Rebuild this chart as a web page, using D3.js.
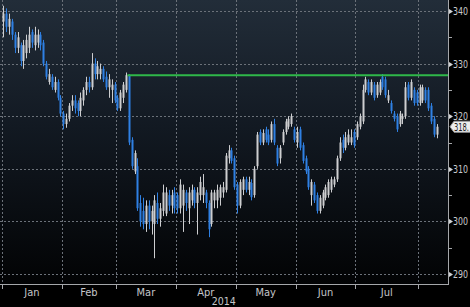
<!DOCTYPE html>
<html>
<head>
<meta charset="utf-8">
<script src="https://cdn.jsdelivr.net/npm/d3@7"></script>
<style>
  body { margin: 0; background: #000; }
  svg { display: block; }
  text { font-family: "Liberation Sans Narrow", "DejaVu Sans Condensed", "Liberation Sans", sans-serif; }
</style>
</head>
<body>
<div id="chart"></div>
<script>
// daily candles, one per trading day from 2 Jan 2014 (index 0) to 11 Aug 2014
var opens = [338,339.5,337,338,335.5,333,333.5,330.5,332,333,336,333.5,334,335.5,334,330,326.5,327.5,325,326.5,323.5,
  320.5,318.5,319.5,322,323,322.5,321,323,325,326.5,325.5,330,328,328,329,327.5,325.5,325,326,
  323.5,321.5,323.5,325,327.8,315.5,309.5,310.5,303.5,302,299.5,303,300,299.5,303.5,300.5,302,301.5,305,303,305.5,
  305,302.5,303,305.5,302.5,304,306,303.5,305,305,305.5,303.5,299.5,304,304,304.5,305.5,306,312,313.5,312,
  307,303,306,308,306,307.3,305,310.5,317,315,317.5,316.5,315.5,318.5,314,312,315,317,318,318.5,317.5,
  315,317.5,314.5,312,310,305,307,305,302,303,304.5,305,306,307,308,312,315.5,314,315,315,317,
  316,318,319,325,326.5,324.5,326,324,324.5,327.5,327,323,322.5,320.5,320,318.5,319.5,320,326,323.5,325,324.5,
  322.5,323,325,325,322,319.5,316.5];
var highs = [341,340.5,339.5,338.5,336,336,334,334.5,335.5,337,336.5,337,336.5,336,334.5,330.5,329,328,327.5,327,324,
  321,320.5,322.5,324,324,323,324.5,325.5,327.5,327.5,332,331,330.5,330,329.5,328.5,328,327,326.5,
  324,325,326.5,328.3,328,316,313.5,312,305,304.5,304,304,303,305,305.5,303.5,307,306.5,306,306,306.5,
  305.5,308,307,306,306.5,307,306.5,306.5,308.5,309,306,304,306,306,307,307,307.5,313,314.5,314,312.5,
  307.5,308,308.5,308.5,308.5,308,310.5,317,317.5,317.5,318,317.5,319,319.5,314.5,314.5,317.5,319.5,320,320.5,318,
  318,318,315,312.5,310.5,308,307.5,305.5,305,306,307,308,308.5,308.5,312.5,316,316.5,317,317.5,317.5,317.5,
  319,320.5,326,327.5,327,327,326.5,326.5,327,328,327.5,325,323,321,320.5,321,320.5,326.5,326.5,327,325.5,325,
  326,326,325.5,325.5,322.5,320,318.5];
var lows = [335,336,335.5,334.5,332,332,329.5,329,331,332,333,332.5,333,332.5,329.5,327,326,325,324.5,323,320,
  317.5,317.8,319,321,320.5,320,320,322,324,324.5,325,327,327,327,326.5,325,323.5,322.5,322.5,
  321,321,322.5,324.5,314.5,310,309,302,299,298.5,298,298.5,297.5,293,299.5,299,301,301,302,301.5,301.5,
  301.5,301.5,298,302,299.5,303,302.5,297.5,304,303.5,302.5,297,299,302.5,302.5,303,304.5,305.5,311,311,306,
  301.5,302.5,305,305.5,305,304,304.5,310,314.5,314.5,315,314.5,315,314.5,310.5,311,314.5,316.5,317.5,318,315,
  314,313.5,311,309,306,303,303.5,301.5,301.5,302.5,304,304.5,305.5,306.5,307.5,311.5,313,313.5,314.5,314.5,314,
  315.5,317.5,318.5,324.5,324,324,323,323.5,324,325,323.5,322.5,320.5,319,317,318,318.5,319.5,323,323,322,322,
  322,322.5,322.5,321,318.5,316,315.8];
var closes = [339.5,337,338.5,335.5,333,335,330.5,333.5,334.5,335.5,334,335.5,335.5,333.5,330,327.5,328,325.5,326.5,323.5,320.5,
  318.5,319.5,322,323,321.5,321,323.5,325,326.5,325.5,330,328,329.5,329,327,325.5,327,326,323,
  321.5,324.5,326,327.8,315,310.5,313,302.5,300,299.5,303,300,302,304,300.5,302.5,305.5,305.5,303,305,302.5,
  302.5,307,306,303.5,305.5,306,303.5,305.5,307.5,306.5,303.5,298.5,305.5,305.5,306,306.5,306.5,312.5,313.5,311.5,306.5,
  303,307.5,308,306,307.5,304.6,310,316.5,315,316.8,315.5,315,318.5,315,311,314,317,319,319.5,320,315.5,
  317,314,311.5,309.5,306.5,307.5,304,302,304.5,305.5,306.5,307.5,308,308,312,315,314,316,316.5,316,314.5,
  318.5,320,325,327,324.5,326.5,323.5,326,326.5,325.5,324,324,321,319.5,317.5,320.5,320,325.5,323.5,326.5,322.5,322.5,
  325.5,325.5,323,321.5,319,316.5,318];

var monthNames = ['Jan', 'Feb', 'Mar', 'Apr', 'May', 'Jun', 'Jul'];
var monthStarts = [0, 21, 40, 61, 82, 103, 124, 146]; // first trading day of each month
var yTicks = [290, 300, 310, 320, 330, 340];
var yMinorTicks = [295, 305, 315, 325, 335];
var resistanceLevel = 327.8;
var resistanceStart = 44;
var lastPrice = 318;

var W = 470, H = 307;
var plotRight = 448, plotBottom = 284;

var svg = d3.select("#chart").append("svg")
    .attr("width", W)
    .attr("height", H);

var defs = svg.append("defs");
var grad = defs.append("linearGradient")
    .attr("id", "bg").attr("x1", 0).attr("y1", 0).attr("x2", 0).attr("y2", 1);
grad.append("stop").attr("offset", "0%").attr("stop-color", "#222d39");
grad.append("stop").attr("offset", "45%").attr("stop-color", "#121922");
grad.append("stop").attr("offset", "100%").attr("stop-color", "#020304");

svg.append("rect").attr("width", W).attr("height", H).attr("fill", "#000");
svg.append("rect")
    .attr("x", 0).attr("y", 0)
    .attr("width", plotRight).attr("height", plotBottom)
    .attr("fill", "url(#bg)");

var x = d3.scaleLinear().domain([0, 156.5]).range([2, plotRight]);
var y = d3.scaleLinear().domain([290, 340]).range([274, 11]);

// grid
svg.append("g").selectAll("line")
    .data(yTicks)
    .enter().append("line")
    .attr("x1", 0).attr("x2", plotRight)
    .attr("y1", function(d) { return Math.round(y(d)) + 0.5; })
    .attr("y2", function(d) { return Math.round(y(d)) + 0.5; })
    .attr("stroke", "#6b7179")
    .attr("stroke-dasharray", "2,2");

svg.append("g").selectAll("line")
    .data(monthStarts)
    .enter().append("line")
    .attr("x1", function(d) { return Math.round(x(d)) + 0.5; })
    .attr("x2", function(d) { return Math.round(x(d)) + 0.5; })
    .attr("y1", 0).attr("y2", plotBottom)
    .attr("stroke", "#6b7179")
    .attr("stroke-dasharray", "2,2");

// candles
var candles = d3.range(closes.length).map(function(i) {
    return { i: i, o: opens[i], h: highs[i], l: lows[i], c: closes[i] };
});
var upColor = "#cdced0", downColor = "#2f80e3";

var cg = svg.append("g").selectAll("g")
    .data(candles)
    .enter().append("g");

cg.append("line")
    .attr("x1", function(d) { return Math.round(x(d.i + 0.5)) + 0.5; })
    .attr("x2", function(d) { return Math.round(x(d.i + 0.5)) + 0.5; })
    .attr("y1", function(d) { return y(d.h); })
    .attr("y2", function(d) { return y(d.l); })
    .attr("stroke", function(d) { return d.c >= d.o ? upColor : downColor; })
    .attr("stroke-width", 1);

cg.append("rect")
    .attr("x", function(d) { return Math.round(x(d.i + 0.5)) - 0.5; })
    .attr("width", 2)
    .attr("y", function(d) { return y(Math.max(d.o, d.c)); })
    .attr("height", function(d) { return Math.max(1, Math.abs(y(d.o) - y(d.c))); })
    .attr("fill", function(d) { return d.c >= d.o ? upColor : downColor; });

// resistance line
svg.append("line")
    .attr("x1", x(resistanceStart)).attr("x2", plotRight)
    .attr("y1", y(resistanceLevel)).attr("y2", y(resistanceLevel))
    .attr("stroke", "#2fb84a")
    .attr("stroke-width", 2);

// axes lines
svg.append("line")
    .attr("x1", plotRight + 0.5).attr("x2", plotRight + 0.5)
    .attr("y1", 0).attr("y2", plotBottom + 1)
    .attr("stroke", "#a5a7aa");
svg.append("line")
    .attr("x1", 0).attr("x2", plotRight + 1)
    .attr("y1", plotBottom + 0.5).attr("y2", plotBottom + 0.5)
    .attr("stroke", "#a5a7aa");

// bottom ticks + labels
svg.append("g").selectAll("line")
    .data(monthStarts)
    .enter().append("line")
    .attr("x1", function(d) { return Math.round(x(d)) + 0.5; })
    .attr("x2", function(d) { return Math.round(x(d)) + 0.5; })
    .attr("y1", plotBottom).attr("y2", plotBottom + 5)
    .attr("stroke", "#a5a7aa");

svg.append("g").selectAll("text")
    .data(monthNames)
    .enter().append("text")
    .attr("x", function(d, k) { return (x(monthStarts[k]) + x(monthStarts[k + 1])) / 2; })
    .attr("y", 296)
    .attr("text-anchor", "middle")
    .attr("font-size", 11)
    .attr("fill", "#c4c6c9")
    .text(function(d) { return d; });

svg.append("text")
    .attr("x", x(monthStarts[3]) + 48)
    .attr("y", 305)
    .attr("text-anchor", "middle")
    .attr("font-size", 10.5)
    .attr("fill", "#c4c6c9")
    .text("2014");

// right axis ticks
svg.append("g").selectAll("path")
    .data(yTicks)
    .enter().append("path")
    .attr("d", function(d) {
        var yy = Math.round(y(d)) + 0.5;
        return "M" + (plotRight + 1) + "," + (yy - 2.5) + "L" + (plotRight + 5) + "," + yy + "L" + (plotRight + 1) + "," + (yy + 2.5) + "Z";
    })
    .attr("fill", "#d0d2d4");

svg.append("g").selectAll("line")
    .data(yMinorTicks)
    .enter().append("line")
    .attr("x1", plotRight + 1).attr("x2", plotRight + 4)
    .attr("y1", function(d) { return Math.round(y(d)) + 0.5; })
    .attr("y2", function(d) { return Math.round(y(d)) + 0.5; })
    .attr("stroke", "#a5a7aa");

svg.append("g").selectAll("text")
    .data(yTicks)
    .enter().append("text")
    .attr("x", plotRight + 5)
    .attr("y", function(d) { return y(d) + 4; })
    .attr("font-size", 11)
    .attr("textLength", 15)
    .attr("lengthAdjust", "spacingAndGlyphs")
    .attr("fill", "#c8cacd")
    .text(function(d) { return d; });

// last price tag
var ly = y(lastPrice);
svg.append("path")
    .attr("d", "M" + (plotRight + 2) + "," + ly + "L" + (plotRight + 6) + "," + (ly - 5.5) + "L" + (W + 2) + "," + (ly - 5.5) +
         "L" + (W + 2) + "," + (ly + 5.5) + "L" + (plotRight + 6) + "," + (ly + 5.5) + "Z")
    .attr("fill", "#eceded")
    .attr("stroke", "#9a9c9f");
svg.append("text")
    .attr("x", plotRight + 6)
    .attr("y", ly + 4)
    .attr("font-size", 10)
    .attr("textLength", 15)
    .attr("lengthAdjust", "spacingAndGlyphs")
    .attr("fill", "#1a1a1a")
    .text(lastPrice.toFixed(0) + ".");
</script>
</body>
</html>
